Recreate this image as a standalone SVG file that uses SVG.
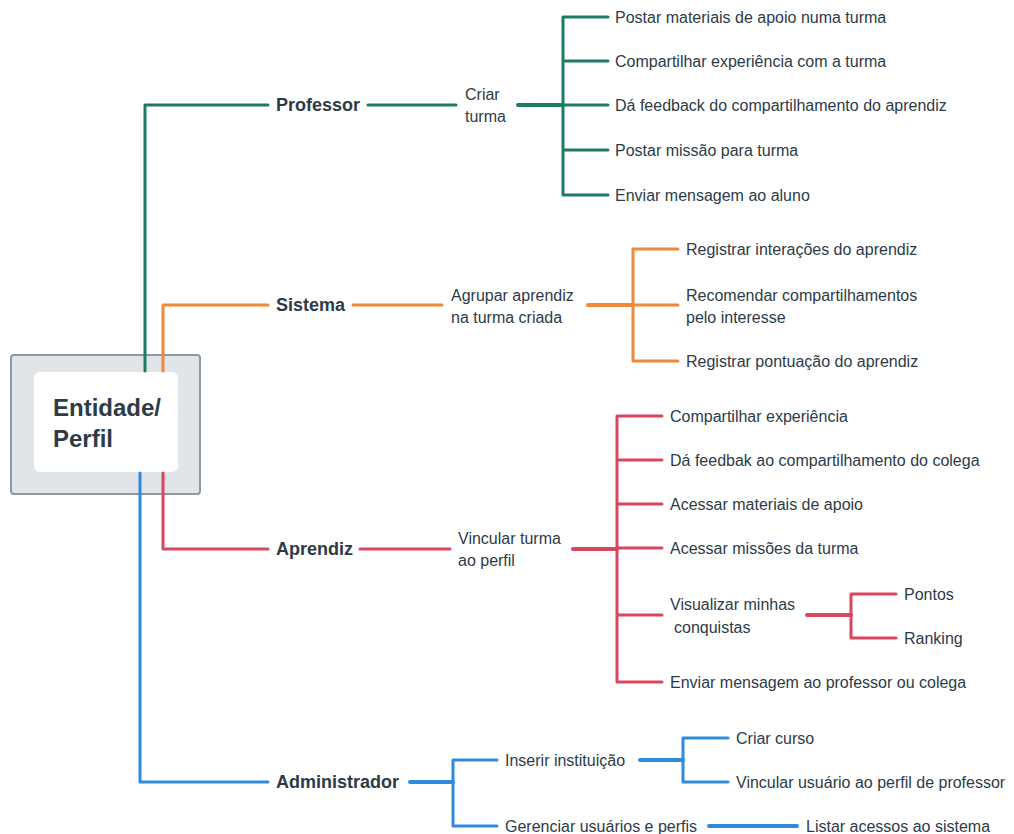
<svg xmlns="http://www.w3.org/2000/svg" width="1014" height="834" viewBox="0 0 1014 834">
<style>
.t{font-family:"Liberation Sans",Arial,sans-serif;font-size:16px;fill:#2d3b48;dominant-baseline:central}
.h{font-family:"Liberation Sans",Arial,sans-serif;font-size:18px;font-weight:bold;fill:#2d3b48;dominant-baseline:central}
.r{font-family:"Liberation Sans",Arial,sans-serif;font-size:24px;font-weight:bold;fill:#2d3b48}
.l{fill:none;stroke-width:3;stroke-linecap:round;stroke-linejoin:round}
.k{stroke-width:4}
.g{stroke:#1e7a66}.o{stroke:#ee8a3a}.re{stroke:#d8475e}.b{stroke:#2e8ade}
</style>
<rect width="1014" height="834" fill="#ffffff"/>
<g id="root">
<rect x="11" y="355" width="189" height="139" rx="3" fill="#e2e5e8" stroke="#8c98a4" stroke-width="2"/>
<rect x="34" y="372" width="144" height="100" rx="6" fill="#ffffff"/>
<text class="r" x="53" y="416">Entidade/</text>
<text class="r" x="53" y="447">Perfil</text>
</g>
<g id="connectors">
<path class="l g" d="M145 371V105H268M368 105H456"/>
<path class="l g k" d="M518 105H563"/>
<path class="l g" d="M563 17V195M563 17H608M563 61H608M563 105H608M563 150H608M563 195H608"/>
<path class="l o" d="M163 371V305H268M353 305H442"/>
<path class="l o k" d="M588 305H633"/>
<path class="l o" d="M633 249V361M633 249H678M633 305H678M633 361H678"/>
<path class="l re" d="M163 473V549H268M360 549H450"/>
<path class="l re k" d="M573 549H617"/>
<path class="l re" d="M617 416V682M617 416H662M617 460H662M617 504H662M617 548H662M617 615H662M617 682H662"/>
<path class="l re k" d="M807 615H851"/>
<path class="l re" d="M851 594V638M851 594H896M851 638H896"/>
<path class="l b" d="M140 473V782H268"/>
<path class="l b k" d="M410 782H453"/>
<path class="l b" d="M453 760V826M453 760H497M453 826H497"/>
<path class="l b k" d="M640 760H683"/>
<path class="l b" d="M683 738V782M683 738H728M683 782H728"/>
<path class="l b k" d="M709 826H797"/>
</g>
<g id="professor"><text class="h" x="276" y="105">Professor</text></g>
<g id="criar-turma"><text class="t" x="465" y="94">Criar</text><text class="t" x="465" y="116">turma</text></g>
<g id="p1"><text class="t" x="615" y="17">Postar materiais de apoio numa turma</text></g>
<g id="p2"><text class="t" x="615" y="61">Compartilhar experiência com a turma</text></g>
<g id="p3"><text class="t" x="615" y="105">Dá feedback do compartilhamento do aprendiz</text></g>
<g id="p4"><text class="t" x="615" y="150">Postar missão para turma</text></g>
<g id="p5"><text class="t" x="615" y="195">Enviar mensagem ao aluno</text></g>
<g id="sistema"><text class="h" x="276" y="305">Sistema</text></g>
<g id="agrupar"><text class="t" x="451" y="295">Agrupar aprendiz</text><text class="t" x="451" y="317">na turma criada</text></g>
<g id="s1"><text class="t" x="686" y="249">Registrar interações do aprendiz</text></g>
<g id="s2"><text class="t" x="686" y="295">Recomendar compartilhamentos</text><text class="t" x="686" y="317">pelo interesse</text></g>
<g id="s3"><text class="t" x="686" y="361">Registrar pontuação do aprendiz</text></g>
<g id="aprendiz"><text class="h" x="276" y="549">Aprendiz</text></g>
<g id="vincular"><text class="t" x="458" y="538">Vincular turma</text><text class="t" x="458" y="560">ao perfil</text></g>
<g id="a1"><text class="t" x="670" y="416">Compartilhar experiência</text></g>
<g id="a2"><text class="t" x="670" y="460">Dá feedbak ao compartilhamento do colega</text></g>
<g id="a3"><text class="t" x="670" y="504">Acessar materiais de apoio</text></g>
<g id="a4"><text class="t" x="670" y="548">Acessar missões da turma</text></g>
<g id="a5"><text class="t" x="670" y="604">Visualizar minhas</text><text class="t" x="674" y="627">conquistas</text></g>
<g id="pontos"><text class="t" x="904" y="594">Pontos</text></g>
<g id="ranking"><text class="t" x="904" y="638">Ranking</text></g>
<g id="a6"><text class="t" x="670" y="682">Enviar mensagem ao professor ou colega</text></g>
<g id="administrador"><text class="h" x="276" y="782">Administrador</text></g>
<g id="inserir"><text class="t" x="505" y="760">Inserir instituição</text></g>
<g id="criar-curso"><text class="t" x="736" y="738">Criar curso</text></g>
<g id="vincular-usuario"><text class="t" x="736" y="782">Vincular usuário ao perfil de professor</text></g>
<g id="gerenciar"><text class="t" x="505" y="826">Gerenciar usuários e perfis</text></g>
<g id="listar"><text class="t" x="806" y="826">Listar acessos ao sistema</text></g>
</svg>
